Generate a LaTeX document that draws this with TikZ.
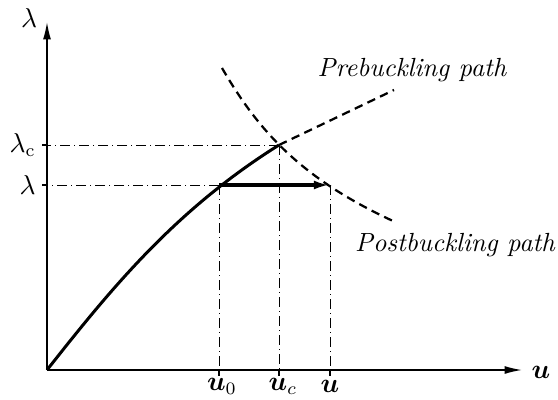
\documentclass[tikz,border=0pt]{standalone}
\usepackage{amsmath,amssymb}
\usepackage{bm}
\usetikzlibrary{arrows.meta}

\begin{document}
\begin{tikzpicture}[x=0.4pt, y=-0.4pt,
    axis/.style={line width=0.6pt, -{Latex[length=7pt, width=3.2pt]}},
    eqpath/.style={line width=1.2pt},
    branch/.style={line width=0.9pt, dash pattern=on 3.4pt off 2.2pt},
    guide/.style={line width=0.4pt, dash pattern=on 4pt off 1.6pt on 0.4pt off 1.6pt},
    tick/.style={line width=0.5pt},
    inc/.style={line width=1.3pt, -{Latex[length=6.5pt, width=3.6pt]}},
    lbl/.style={font=\fontsize{10.5}{12}\selectfont\itshape},
    alab/.style={font=\fontsize{10.5}{12}\selectfont},
  ]
    \useasboundingbox (0,0) rectangle (558,399);

    % Points
    \coordinate (O) at (47,370);
    \coordinate (ytop) at (47,22);
    \coordinate (xend) at (522,370);
    \coordinate (A) at (219,185);
    \coordinate (C) at (279,145);
    \coordinate (B) at (330,185);
    \coordinate (pre) at (394,90);
    \coordinate (post0) at (222,68);
    \coordinate (post1) at (393,221);

    % Axes
    \draw[axis] (O) -- (ytop);
    \draw[axis] (O) -- (xend);
    \node[alab] (lam) at (29,18) {$\lambda$};
    \node[alab] (uax) at (541,372) {$\bm{u}$};

    % Guide lines
    \draw[guide] (C) -- (C -| O) coordinate (yc);
    \draw[guide] (A) -- (A -| O) coordinate (ya);
    \draw[guide] (A) -- (A |- O) coordinate (xa);
    \draw[guide] (C) -- (C |- O) coordinate (xc);
    \draw[guide] (B) -- (B |- O) coordinate (xb);

    % Ticks
    \foreach \p in {xa, xc, xb}
      \draw[tick] (\p) -- ++(0,6);
    \foreach \p in {yc, ya}
      \draw[tick] (\p) -- ++(-5,0);

    % Tick labels
    \node[alab, left=1pt] (lc) at (yc) {$\lambda_{\mathrm{c}}$};
    \node[alab, left=1pt] (la) at (ya) {$\lambda$};
    \node[alab] (u0) at (222,386) {$\bm{u}_0$};
    \node[alab] (uc) at (283,386) {$\bm{u}_c$};
    \node[alab] (u1) at (330,386) {$\bm{u}$};

    % Paths
    \draw[eqpath] (O) .. controls (110,290) and (175,210) .. (C);
    \draw[branch] (C) -- (pre);
    \draw[branch] (post0) .. controls (258,130) and (300,178) .. (post1);
    \draw[inc] (A) -- (B);

    % Labels
    \node[lbl] (prelab) at (412,70) {Prebuckling path};
    \node[lbl] (postlab) at (455,245) {Postbuckling path};
  \end{tikzpicture}
\end{document}
